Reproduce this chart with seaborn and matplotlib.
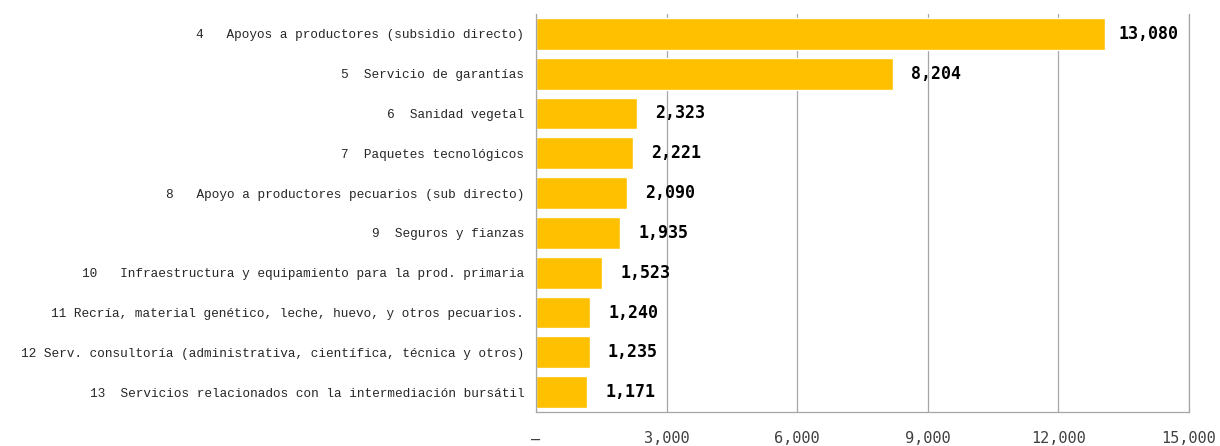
import matplotlib
matplotlib.use("Agg")
import pandas as pd
import matplotlib.pyplot as plt
import seaborn as sns
from matplotlib.ticker import FuncFormatter

# Data
numbers = ["4", "5", "6", "7", "8", "9", "10", "11", "12", "13"]
labels = [
    "4   Apoyos a productores (subsidio directo)",
    "5  Servicio de garantías",
    "6  Sanidad vegetal",
    "7  Paquetes tecnológicos",
    "8   Apoyo a productores pecuarios (sub directo)",
    "9  Seguros y fianzas",
    "10   Infraestructura y equipamiento para la prod. primaria",
    "11 Recría, material genético, leche, huevo, y otros pecuarios.",
    "12 Serv. consultoría (administrativa, científica, técnica y otros)",
    "13  Servicios relacionados con la intermediación bursátil",
]
values = [13080, 8204, 2323, 2221, 2090, 1935, 1523, 1240, 1235, 1171]
x_ticks = [0, 3000, 6000, 9000, 12000, 15000]

df = pd.DataFrame({"programa": labels, "monto": values})

sns.set_style("white")
fig = plt.figure(figsize=(12.2, 4.46), dpi=100)
ax = fig.add_axes([536 / 1220, 1 - 412 / 446, (1189 - 536) / 1220, (412 - 14) / 446])

sns.barplot(data=df, y="programa", x="monto", orient="h", color="#FFC000",
            saturation=1, width=0.8, ax=ax)

ax.set_xlim(0, 15000)
ax.set_ylim(9.5, -0.5)
ax.set_xticks(x_ticks)
ax.xaxis.set_major_formatter(FuncFormatter(lambda v, p: "–" if v == 0 else f"{int(v):,}"))
ax.grid(axis="x", color="#a6a6a6", linewidth=0.9)
ax.set_axisbelow(True)
ax.set_xlabel("")
ax.set_ylabel("")

for side in ["left", "bottom", "right"]:
    ax.spines[side].set_color("#a6a6a6")
    ax.spines[side].set_linewidth(0.9)
ax.spines["top"].set_visible(False)

ax.tick_params(axis="y", length=0, pad=8.5)
ax.tick_params(axis="x", length=0, pad=14)
for t in ax.get_yticklabels():
    t.set_fontfamily("Liberation Mono")
    t.set_fontsize(9.2)
    t.set_color("#262626")
for t in ax.get_xticklabels():
    t.set_fontfamily("DejaVu Sans Mono")
    t.set_fontsize(11)
    t.set_color("#404040")

# value labels
for i, v in enumerate(values):
    ax.annotate(f"{v:,}", xy=(v, i), xytext=(31, 0), textcoords="offset points",
                ha="center", va="center", fontsize=12, fontweight="bold",
                family="DejaVu Sans Mono", color="black")

fig.savefig("out.png", dpi=100)
